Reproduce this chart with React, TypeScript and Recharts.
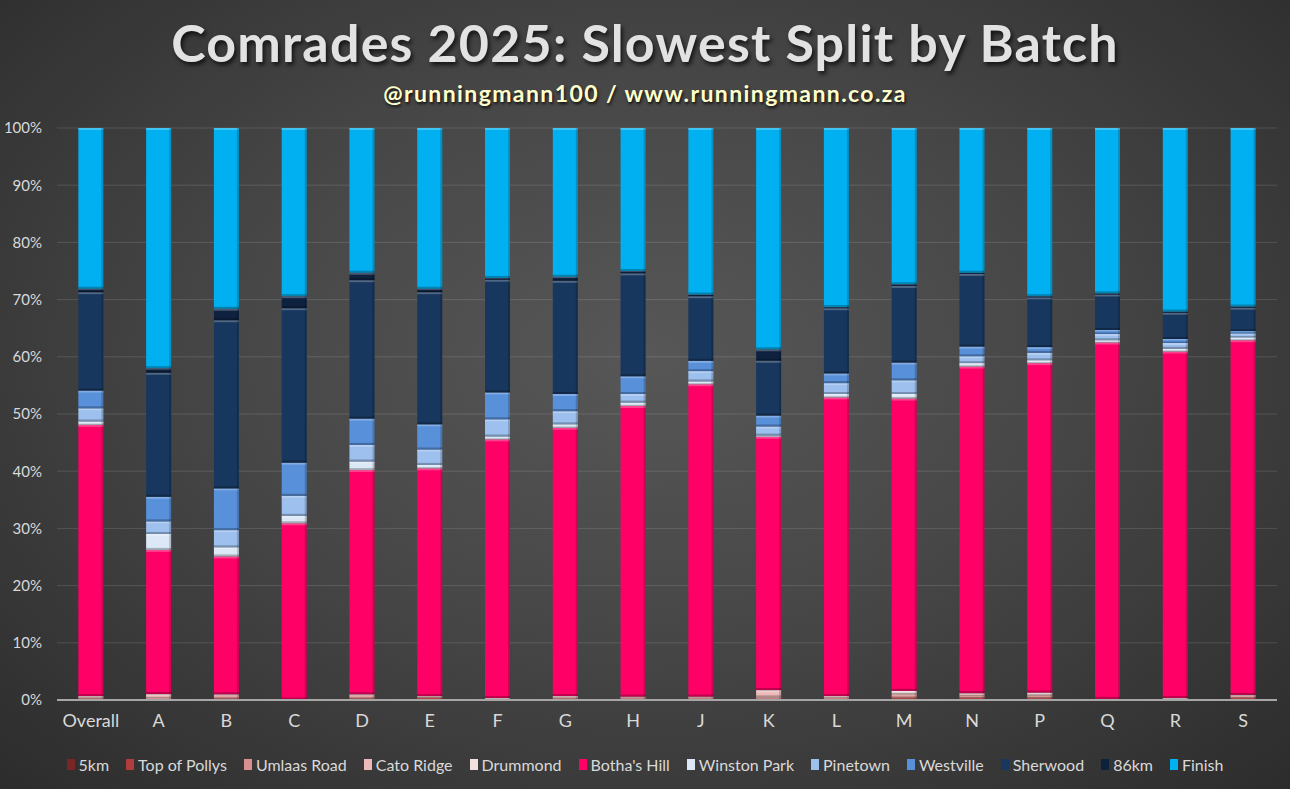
import { BarChart, Bar, XAxis, YAxis, CartesianGrid } from "recharts";

const BATCHES = ["Overall", "A", "B", "C", "D", "E", "F", "G", "H", "J", "K", "L", "M", "N", "P", "Q", "R", "S"];

// share of runners whose slowest split fell in each section (%)
const KM5 =        [0.1, 0.05, 0.1, 0.0, 0.1, 0.1, 0.0, 0.05, 0.05, 0.05, 0.05, 0.05, 0.1, 0.1, 0.1, 0.0, 0.0, 0.1];
const POLLYS =     [0.1, 0.1, 0.2, 0.0, 0.2, 0.3, 0.05, 0.15, 0.1, 0.1, 0.1, 0.1, 0.3, 0.3, 0.3, 0.05, 0.05, 0.3];
const UMLAAS =     [0.3, 0.2, 0.4, 0.05, 0.4, 0.2, 0.1, 0.3, 0.3, 0.3, 0.3, 0.3, 0.5, 0.4, 0.4, 0.05, 0.1, 0.3];
const CATO =       [0.1, 0.6, 0.2, 0.05, 0.2, 0.05, 0.1, 0.1, 0.1, 0.1, 1.2, 0.2, 0.2, 0.3, 0.2, 0.05, 0.1, 0.1];
const DRUMMOND =   [0.1, 0.1, 0.1, 0.0, 0.1, 0.05, 0.1, 0.1, 0.05, 0.05, 0.1, 0.05, 0.5, 0.1, 0.3, 0.05, 0.1, 0.1];
const BOTHAS =     [47.4, 25.2, 24.1, 30.8, 39.2, 39.8, 45.2, 46.9, 50.8, 54.6, 44.3, 52.2, 51.1, 57.1, 57.6, 62.3, 60.6, 62.0];
const WINSTON =    [0.6, 2.8, 1.6, 1.3, 1.5, 0.6, 0.5, 0.6, 0.6, 0.5, 0.2, 0.6, 0.8, 0.6, 0.5, 0.4, 0.5, 0.5];
const PINETOWN =   [2.3, 2.2, 3.0, 3.5, 2.9, 2.7, 3.0, 2.3, 1.5, 1.8, 1.6, 1.9, 2.4, 1.2, 1.3, 1.1, 1.0, 0.7];
const WESTVILLE =  [3.1, 4.3, 7.3, 5.8, 4.6, 4.4, 4.7, 3.0, 3.1, 1.8, 1.9, 1.7, 3.1, 1.7, 1.0, 0.7, 0.7, 0.4];
const SHERWOOD =   [17.2, 21.7, 29.4, 27.0, 24.2, 23.1, 19.7, 19.8, 18.0, 11.3, 9.6, 11.4, 13.4, 12.7, 8.7, 6.2, 4.6, 4.1];
const KM86 =       [0.6, 0.8, 2.0, 2.1, 1.3, 0.6, 0.3, 0.7, 0.4, 0.3, 2.0, 0.2, 0.3, 0.2, 0.2, 0.2, 0.2, 0.2];
const FINISH =     [28.1, 42.0, 31.6, 29.4, 25.3, 28.1, 26.2, 26.0, 25.0, 29.1, 38.7, 31.3, 27.3, 25.3, 29.4, 28.9, 32.1, 31.2];

const Y_TICKS = [0, 0.1, 0.2, 0.3, 0.4, 0.5, 0.6, 0.7, 0.8, 0.9, 1];

const SERIES = [
  { name: "5km", values: KM5, color: "#7a2626" },
  { name: "Top of Pollys", values: POLLYS, color: "#b03c3c" },
  { name: "Umlaas Road", values: UMLAAS, color: "#d98f8f" },
  { name: "Cato Ridge", values: CATO, color: "#ecb8b8" },
  { name: "Drummond", values: DRUMMOND, color: "#f3e1e1" },
  { name: "Botha's Hill", values: BOTHAS, color: "#ff0066" },
  { name: "Winston Park", values: WINSTON, color: "#dce8f6" },
  { name: "Pinetown", values: PINETOWN, color: "#9dc0ee" },
  { name: "Westville", values: WESTVILLE, color: "#5890da" },
  { name: "Sherwood", values: SHERWOOD, color: "#17375e" },
  { name: "86km", values: KM86, color: "#0e2240" },
  { name: "Finish", values: FINISH, color: "#00b0f0" },
];

const rows = BATCHES.map((batch, i) => {
  const row: Record<string, number | string> = { batch };
  for (const s of SERIES) row[s.name] = s.values[i];
  return row;
});

const FONT = "Lato, 'Open Sans', sans-serif";
const TEXT = "#d9d9d9";

// flat fill with a thin light top edge and dark bottom edge, a nod to Excel's bevel
function Bevel(props: any) {
  const { x, y, width, height, fill } = props;
  if (!height || height <= 0) return null;
  const e = Math.min(2, height / 3);
  return (
    <g>
      <rect x={x} y={y} width={width} height={height} fill={fill} />
      <rect x={x} y={y} width={width} height={e} fill="rgba(255,255,255,0.25)" />
      <rect x={x} y={y + height - e} width={width} height={e} fill="rgba(0,0,0,0.25)" />
      <rect x={x + width - 2} y={y} width={2} height={height} fill="rgba(0,0,0,0.18)" />
    </g>
  );
}

export default function App() {
  return (
    <div
      style={{
        position: "absolute", left: 0, top: 0, width: 1290, height: 789, overflow: "hidden",
        background: "radial-gradient(ellipse at 50% 45%, #575757 0%, #474747 45%, #2c2c2c 100%)",
        fontFamily: FONT,
      }}
    >
      <style>{`body{margin:0}`}</style>
      <div
        style={{
          position: "absolute", top: 11, left: 0, width: 1290, textAlign: "center",
          fontSize: 52, fontWeight: 700, color: "#e2e2e2", letterSpacing: 1.2,
          textShadow: "2px 3px 4px rgba(0,0,0,0.7)",
        }}
      >
        Comrades 2025: Slowest Split by Batch
      </div>
      <div
        style={{
          position: "absolute", top: 79, left: 0, width: 1290, textAlign: "center",
          fontSize: 23, fontWeight: 700, color: "#ffffcc", letterSpacing: 1.4,
          textShadow: "1px 2px 3px rgba(0,0,0,0.8)",
        }}
      >
        @runningmann100 / www.runningmann.co.za
      </div>

      <div style={{ position: "absolute", left: 0, top: 0 }}>
        <BarChart
          width={1290}
          height={789}
          data={rows}
          stackOffset="expand"
          barCategoryGap="31.5%"
          margin={{ top: 128, right: 13, bottom: 59, left: 0 }}
        >
          <CartesianGrid vertical={false} stroke="rgba(255,255,255,0.13)" />
          <XAxis
            dataKey="batch"
            axisLine={{ stroke: "#a6a6a6", strokeWidth: 2 }}
            tickLine={false}
            tick={{ fill: TEXT, fontSize: 18, fontFamily: FONT }}
            tickMargin={8}
            height={30}
          />
          <YAxis
            type="number"
            domain={[0, 1]}
            ticks={Y_TICKS}
            tickFormatter={(v: number) => `${Math.round(v * 100)}%`}
            axisLine={false}
            tickLine={false}
            tick={{ fill: TEXT, fontSize: 15, fontFamily: FONT }}
            tickMargin={9}
            width={57}
          />
          {SERIES.map((s) => (
            <Bar
              key={s.name}
              dataKey={s.name}
              stackId="split"
              fill={s.color}
              shape={<Bevel />}
              isAnimationActive={false}
            />
          ))}
        </BarChart>
      </div>

      <div
        style={{
          position: "absolute", top: 755, left: 0, width: 1290, display: "flex",
          justifyContent: "center", gap: 17, fontSize: 16, color: TEXT,
        }}
      >
        {SERIES.map((s) => (
          <div key={s.name} style={{ display: "flex", alignItems: "center", gap: 4 }}>
            <span style={{ width: 8, height: 11, background: s.color, display: "inline-block" }} />
            <span>{s.name}</span>
          </div>
        ))}
      </div>
    </div>
  );
}
